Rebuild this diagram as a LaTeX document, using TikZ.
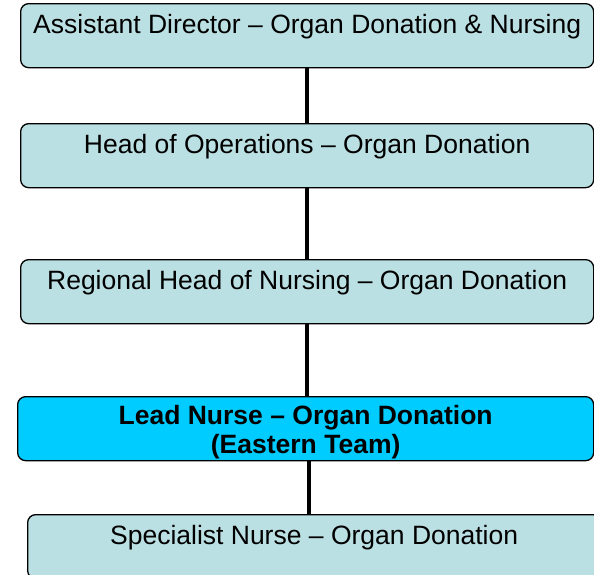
\documentclass[tikz,border=0pt]{standalone}
\usepackage{fontspec}
\setmainfont{Liberation Sans}

\begin{document}
\begin{tikzpicture}[x=1pt,y=1pt,yscale=-1,
	post/.style={draw=black, line width=1.3pt, rounded corners=8pt,
		fill={rgb,255:red,187;green,224;blue,227}, minimum width=573pt,
		inner sep=0pt, text height=30pt, text depth=34pt,
		font=\fontsize{26.5}{27}\selectfont},
	lead/.style={post, fill={rgb,255:red,0;green,204;blue,255}, minimum width=576pt,
		text height=57pt, text depth=7pt, align=center,
		font=\fontsize{26.5}{29}\selectfont\bfseries},
	link/.style={line width=4pt}]
	\useasboundingbox (0,0) rectangle (594,574);
	\clip (0,0) rectangle (594,574);
	\node [post, anchor=north west] (director) at (20,3) {Assistant Director – Organ Donation \& Nursing};
	\node [post, anchor=north west] (operations) at (20,123) {Head of Operations – Organ Donation};
	\node [post, anchor=north west] (regional) at (20,259) {Regional Head of Nursing – Organ Donation};
	\node [lead, anchor=north west] (leadnurse) at (17,396) {Lead Nurse – Organ Donation\\(Eastern Team)};
	\node [post, anchor=north west] (specialist) at (27,514) {Specialist Nurse – Organ Donation};
	% reporting lines
	\draw [link] (director.south) -- (operations.north);
	\draw [link] (operations.south) -- (regional.north);
	\draw [link] (regional.south) -- (regional.south |- leadnurse.north);
	\draw [link] ([xshift=3pt]leadnurse.south) -- ([xshift=3pt]leadnurse.south |- specialist.north);
\end{tikzpicture}
\end{document}
